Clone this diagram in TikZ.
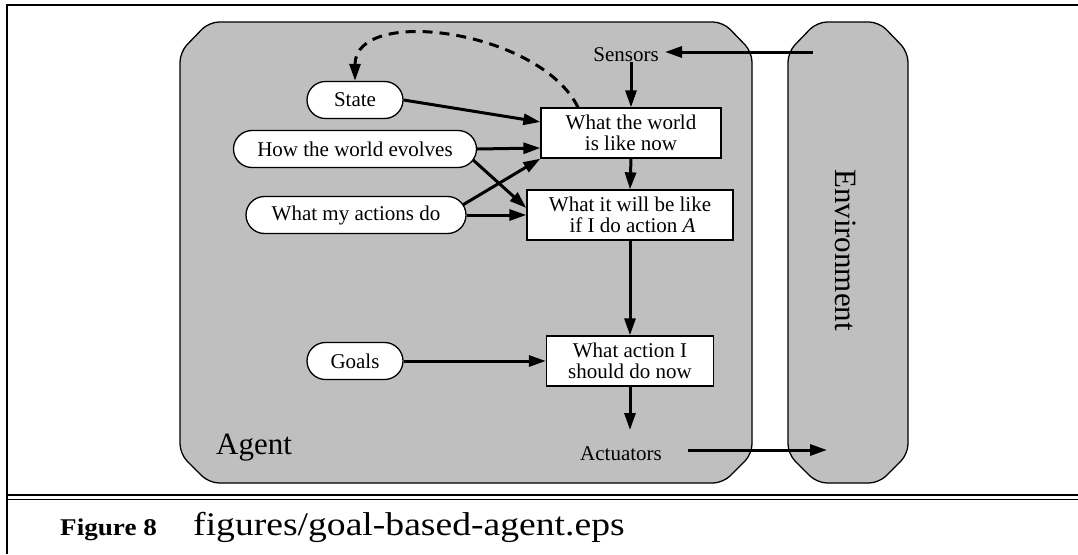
\documentclass[tikz,border=0pt]{standalone}
\usepackage{fontspec}
\setmainfont{Liberation Serif}
\usetikzlibrary{arrows.meta,shapes.misc}
\definecolor{boxgray}{RGB}{191,191,191}
\begin{document}
\begin{tikzpicture}[x=1pt,y=-1pt,
  txt/.style={font=\fontsize{21}{21}\selectfont, inner sep=0pt},
  boxn/.style={draw, fill=white, line width=1.3pt, minimum height=50pt, align=center, inner sep=0pt, font=\fontsize{21}{21}\selectfont},
  pill/.style={draw, fill=white, line width=1.3pt, rounded rectangle, minimum height=37pt, inner sep=0pt, font=\fontsize{21}{21}\selectfont},
  arr/.style={line width=3pt, -{Triangle[length=17pt,width=11pt]}},
  bigbox/.style={draw, fill=boxgray, line width=1.3pt, rounded corners=10pt}
]
\useasboundingbox (0,0) rectangle (1078,554);
\fill[white] (0,0) rectangle (1078,554);
% frame
\draw[line width=2pt] (7,554) -- (7,5) -- (1078,5);
\draw[line width=1.8pt] (7,495) -- (1078,495);
\draw[line width=1.8pt] (7,499.5) -- (1078,499.5);
% agent and environment
\draw[bigbox] (180,52) -- (209,22) -- (723,22) -- (752,52) -- (752,454) -- (723,483) -- (209,483) -- (180,454) -- cycle;
\draw[bigbox] (788,52) -- (817,22) -- (879,22) -- (908,52) -- (908,454) -- (879,483) -- (817,483) -- (788,454) -- cycle;
\node[font=\fontsize{31}{31}\selectfont, anchor=base west, inner sep=0pt] (agent) at (216,454) {Agent};
\node[font=\fontsize{31}{31}\selectfont, rotate=-90, inner sep=0pt] (env) at (846,250) {Environment};
% inner nodes
\node[txt] (sens) at (626,55) {Sensors};
\node[boxn, minimum width=180pt] (box1) at (631,133) {What the world\\is like now};
\node[boxn, minimum width=206pt] (box2) at (630,215) {What it will be like\\ \ if I do action \textit{A}};
\node[boxn, minimum width=167pt] (box3) at (630,361) {What action I\\should do now};
\node[txt] (act) at (621,454) {Actuators};
\node[pill, minimum width=96pt] (state) at (355,100) {State};
\node[pill, minimum width=243pt] (how) at (355,149) {How the world evolves};
\node[pill, minimum width=220pt] (acts) at (356,215) {What my actions do};
\node[pill, minimum width=96pt] (goals) at (355,361) {Goals};
% coordinates
\coordinate (envin) at (813,52);
\coordinate (sensin) at (665,52);
\coordinate (actout) at (688,450);
\coordinate (envout) at (827,450);
\coordinate (actin) at (628,430);
% connectors
\draw[arr] (envin) -- (sensin);
\draw[arr] (box1.north |- sens.south) -- (box1.north);
\draw[arr] (box1.south) -- (box2.north);
\draw[arr] (box2.south) -- (box3.north);
\draw[arr] (box3.south) -- (box3.south |- actin);
\draw[arr] (actout) -- (envout);
\draw[arr] (state.east) -- ([yshift=11pt]box1.west);
\draw[arr] (how.east) -- ([yshift=-15pt]box1.west);
\draw[arr] ([shift={(-4,11)}]how.east) -- ([yshift=7pt]box2.west);
\draw[arr] ([shift={(-4,-10)}]acts.east) -- (box1.south west);
\draw[arr] (acts.east) -- (box2.west);
\draw[arr] (goals.east) -- (box3.west);
\draw[arr, dash pattern=on 10pt off 7pt] ([xshift=-53pt]box1.north) .. controls (540,30) and (355,5) .. (state.north);
% caption
\node[font=\fontsize{24}{24}\selectfont\bfseries, anchor=base west, inner sep=0pt, xscale=1.13] (fig) at (60,535) {Figure 8};
\node[font=\fontsize{33}{33}\selectfont, anchor=base west, inner sep=0pt, xscale=1.14] (cap) at (193,535) {figures/goal-based-agent.eps};
\end{tikzpicture}
\end{document}
